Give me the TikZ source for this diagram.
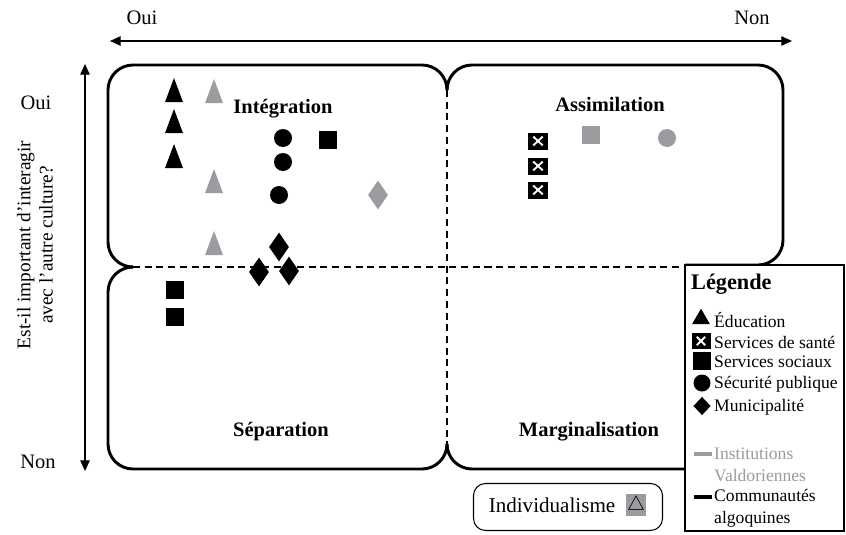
\documentclass[tikz,border=0pt]{standalone}
\usepackage{fontspec}
\setmainfont{Liberation Serif}
\usepackage{xcolor}
\usepackage{tikz}
\usetikzlibrary{shapes.geometric, arrows.meta, positioning}

\definecolor{valdor}{RGB}{155,155,160}

\begin{document}
\begin{tikzpicture}[x=0.03cm, y=-0.03cm,
    font=\fontsize{17.5}{20}\selectfont,
    boxline/.style={line width=2.5pt, rounded corners=0.75cm},
    splitline/.style={line width=2.5pt, dash pattern=on 6pt off 4pt},
    axisline/.style={line width=0.9pt, {Triangle[length=9pt,width=8pt]}-{Triangle[length=9pt,width=8pt]}},
    quadlabel/.style={font=\fontsize{17.5}{20}\bfseries},
    educmark/.style={regular polygon, regular polygon sides=3, fill=black, inner sep=0pt,
      minimum size=0.62cm, yscale=1.55, transform shape},
    santemark/.style={rectangle, fill=black, inner sep=0pt, minimum width=0.6cm, minimum height=0.51cm,
      path picture={\draw[white, line width=1.6pt]
        ([shift={(4.5pt,3.5pt)}]path picture bounding box.south west) --
        ([shift={(-4.5pt,-3.5pt)}]path picture bounding box.north east)
        ([shift={(4.5pt,-3.5pt)}]path picture bounding box.north west) --
        ([shift={(-4.5pt,3.5pt)}]path picture bounding box.south east);}},
    socialmark/.style={rectangle, fill=black, inner sep=0pt, minimum size=0.56cm},
    securmark/.style={circle, fill=black, inner sep=0pt, minimum size=0.54cm},
    municmark/.style={diamond, fill=black, inner sep=0pt, minimum width=0.6cm, minimum height=0.87cm},
    legtext/.style={anchor=west, font=\fontsize{15}{18.5}\selectfont, inner sep=0pt}
  ]
  \useasboundingbox (0,0) rectangle (846,534);

  % axes
  \node (houi) at (142,18) {Oui};
  \node (hnon) at (752,18) {Non};
  \coordinate (hleft) at (110,41);
  \coordinate (hright) at (792,41);
  \draw[axisline] (hleft) -- (hright);

  \node (voui) at (36,103) {Oui};
  \node (vnon) at (38,462) {Non};
  \coordinate (vtop) at (85,64);
  \coordinate (vbot) at (85,471);
  \draw[axisline] (vtop) -- (vbot);
  \node[rotate=90, align=center, font=\fontsize{16.5}{19}\selectfont] (question) at (35,245)
    {Est-il important d'interagir\\avec l'autre culture?};

  % quadrants
  \coordinate (cuspL) at (133,267);
  \coordinate (cuspT) at (447,90);
  \coordinate (cuspB) at (447,444);
  \draw[boxline] (cuspL) -- (108,267) -- (108,65) -- (447,65) -- (cuspT);
  \draw[boxline] (cuspT) -- (447,65) -- (783,65) -- (783,265) -- (685,265);
  \draw[boxline] (cuspL) -- (108,267) -- (108,469) -- (447,469) -- (cuspB);
  \draw[boxline] (cuspB) -- (447,469) -- (685,469);
  \draw[splitline] (cuspL) -- (685,267);
  \draw[splitline] (cuspT) -- (cuspB);

  \node[quadlabel] (integ) at (283,109) {Intégration};
  \node[quadlabel] (assim) at (610,104) {Assimilation};
  \node[quadlabel] (separ) at (281,432) {Séparation};
  \node[quadlabel] (margi) at (589,432) {Marginalisation};

  % education
  \node[educmark] (educ1) at (174,94) {};
  \node[educmark] (educ2) at (174,125) {};
  \node[educmark] (educ3) at (174,160) {};
  \node[educmark, fill=valdor] (educ4) at (214,95) {};
  \node[educmark, fill=valdor] (educ5) at (214,185) {};
  \node[educmark, fill=valdor] (educ6) at (214,247) {};

  % securite publique
  \node[securmark] (secur1) at (283,138) {};
  \node[securmark] (secur2) at (283,162) {};
  \node[securmark] (secur3) at (279,195) {};
  \node[securmark, fill=valdor] (secur4) at (667,138) {};

  % services sociaux
  \node[socialmark] (social1) at (328,140) {};
  \node[socialmark] (social2) at (175,290) {};
  \node[socialmark] (social3) at (175,317) {};
  \node[socialmark, fill=valdor] (social4) at (591,135) {};

  % municipalite
  \node[municmark, fill=valdor] (munic1) at (378,195) {};
  \node[municmark] (munic2) at (279,247) {};
  \node[municmark] (munic3) at (259,272) {};
  \node[municmark] (munic4) at (289,271) {};

  % services de sante
  \node[santemark] (sante1) at (538,141) {};
  \node[santemark] (sante2) at (538,166) {};
  \node[santemark] (sante3) at (538,190) {};

  % legende
  \draw[line width=0.9pt, fill=white] (685,265) rectangle (844,531);
  \node[anchor=west, inner sep=0pt, font=\fontsize{19}{22}\bfseries] (legtitle) at (691,284) {Légende};
  \node[educmark, minimum size=0.62cm, yscale=1/1.55] (legeduc) at (701,319) {};
  \node[legtext] (legeductxt) at (714,320) {Éducation};
  \node[santemark, minimum width=0.57cm, minimum height=0.5cm] (legsante) at (701,341) {};
  \node[legtext] (legsantetxt) at (714,342) {Services de santé};
  \node[socialmark, minimum size=0.55cm] (legsocial) at (702,361) {};
  \node[legtext] (legsocialtxt) at (714,362) {Services sociaux};
  \node[securmark, minimum size=0.51cm] (legsecur) at (702,383) {};
  \node[legtext] (legsecurtxt) at (714,384) {Sécurité publique};
  \node[municmark, minimum width=0.52cm, minimum height=0.55cm] (legmunic) at (702,406) {};
  \node[legtext] (legmunictxt) at (714,407) {Municipalité};
  \node[rectangle, fill=valdor, inner sep=0pt, minimum width=0.54cm, minimum height=0.12cm] (legvaldor) at (703,454) {};
  \node[legtext, text=valdor, align=left] (legvaldortxt) at (714,465) {Institutions\\Valdoriennes};
  \node[rectangle, fill=black, inner sep=0pt, minimum width=0.54cm, minimum height=0.12cm] (legalgo) at (703,497) {};
  \node[legtext, align=left] (legalgotxt) at (714,508) {Communautés\\algoquines};

  % individualisme
  \node[draw, line width=0.9pt, rounded corners=0.36cm, minimum width=5.67cm, minimum height=1.41cm] (indiv) at (568,507) {};
  \node[font=\fontsize{18}{20}\selectfont] (indivtxt) at (552,505) {Individualisme};
  \node[rectangle, fill=valdor, inner sep=1pt, minimum width=0.4cm, minimum height=0.66cm] (indivmark) at (636,505) {$\triangle$};
\end{tikzpicture}
\end{document}
